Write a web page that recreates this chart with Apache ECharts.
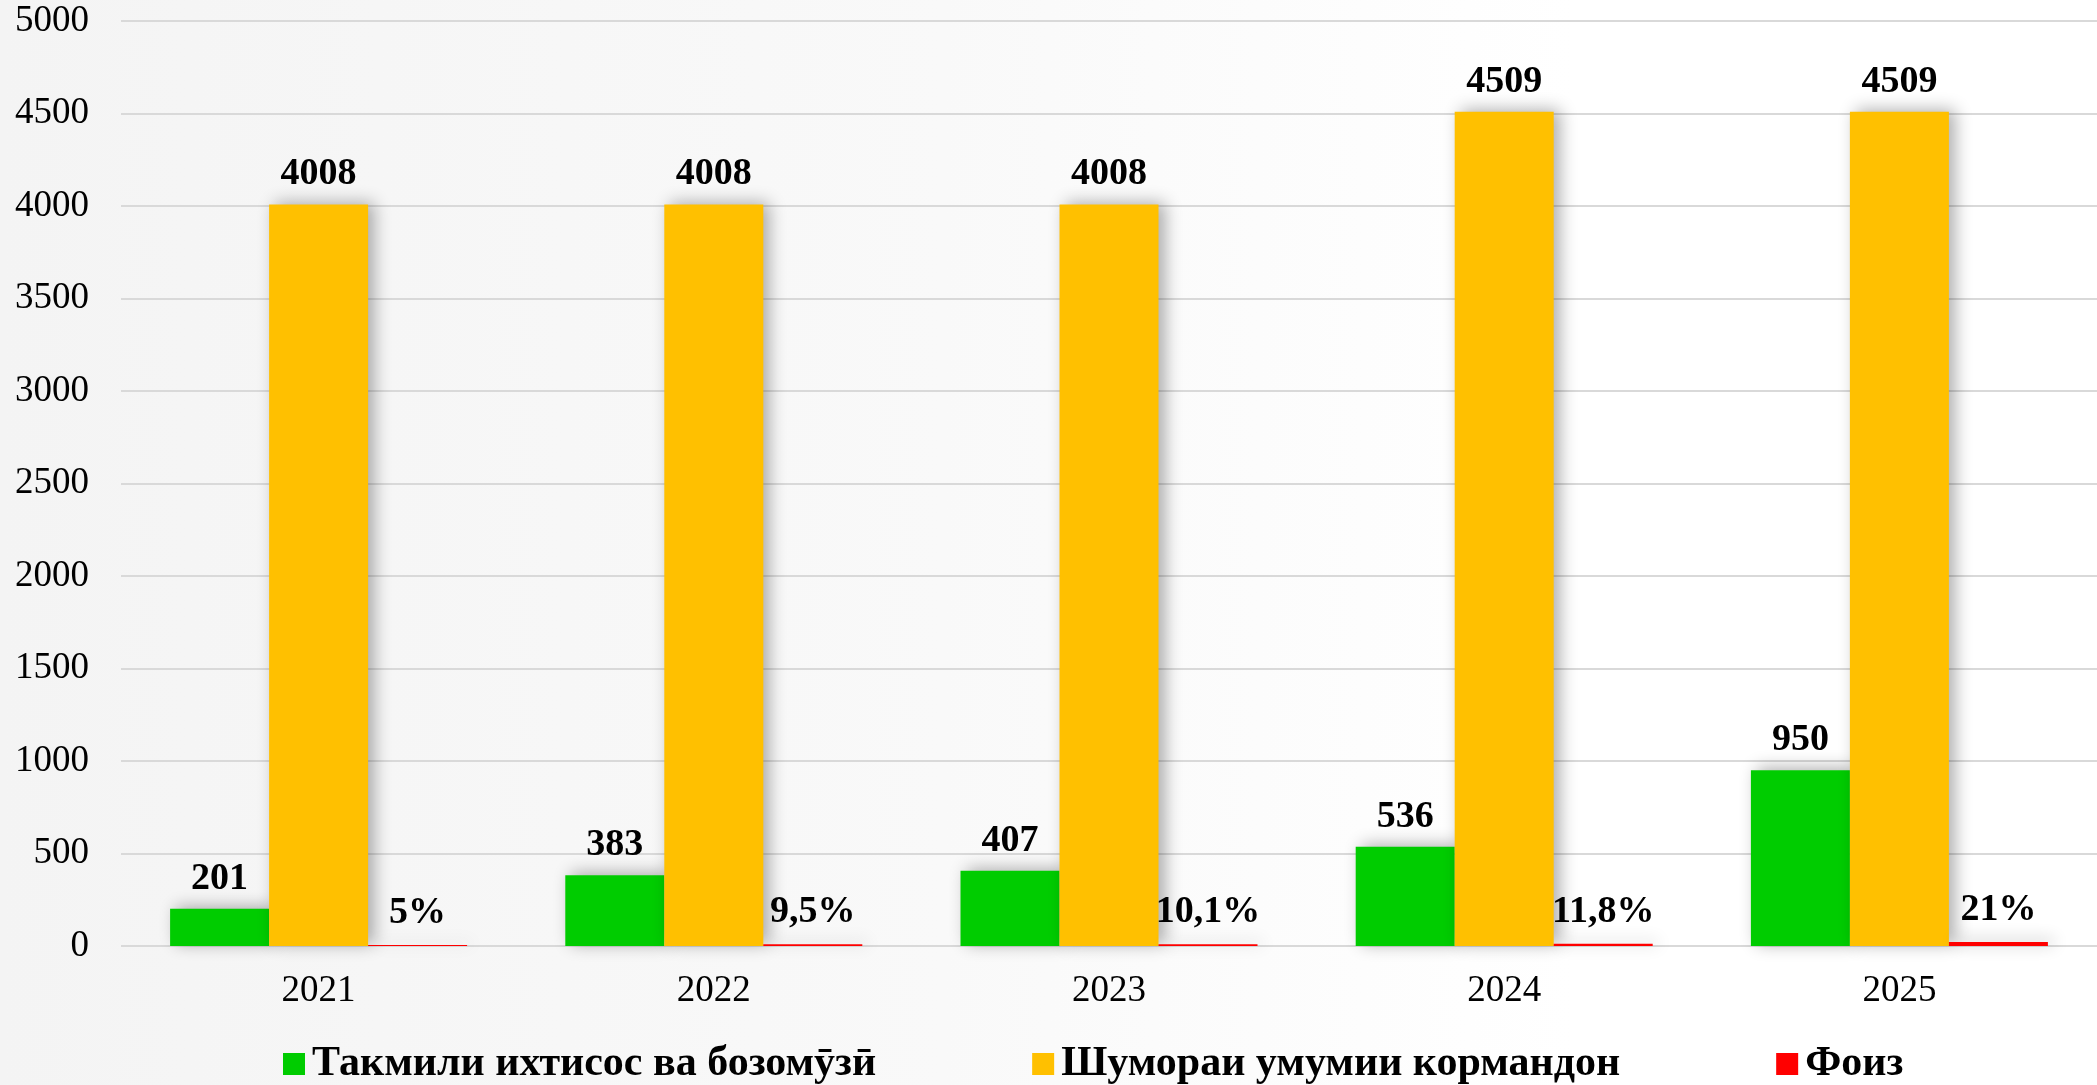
<!DOCTYPE html>
<html>
<head>
<meta charset="utf-8">
<script src="https://cdn.jsdelivr.net/npm/echarts@6/dist/echarts.min.js"></script>
<style>
html,body{margin:0;padding:0;}
#chart{width:2097px;height:1085px;}
</style>
</head>
<body>
<div id="chart"></div>
<script>
const categories = ['2021', '2022', '2023', '2024', '2025'];
const seriesNames = ['Такмили ихтисос ва бозомӯзӣ', 'Шумораи умумии кормандон', 'Фоиз'];
const trainedValues = [201, 383, 407, 536, 950];
const totalValues = [4008, 4008, 4008, 4509, 4509];
const percentValues = [5, 9.5, 10.1, 11.8, 21];
const percentLabels = ['5%', '9,5%', '10,1%', '11,8%', '21%'];
const yTicks = [0, 500, 1000, 1500, 2000, 2500, 3000, 3500, 4000, 4500, 5000];

const FONT = '"Liberation Serif", "DejaVu Serif", serif';
const shadow = {shadowBlur: 16, shadowColor: 'rgba(0,0,0,0.32)', shadowOffsetX: 6, shadowOffsetY: -2};
const labelBase = {show: true, position: 'top', distance: 11, fontFamily: FONT, fontWeight: 'bold', fontSize: 38, color: '#000'};

const chart = echarts.init(document.getElementById('chart'));
chart.setOption({
  backgroundColor: {
    type: 'linear', x: 0, y: 0, x2: 1, y2: 0,
    colorStops: [{offset: 0, color: '#f4f4f4'}, {offset: 0.45, color: '#f9f9f9'}, {offset: 0.75, color: '#ffffff'}, {offset: 1, color: '#ffffff'}]
  },
  animation: false,
  grid: {left: 121, right: 0, top: 21, bottom: 139, containLabel: false},
  legend: {
    left: 278, top: 1038,
    itemWidth: 22, itemHeight: 22, itemGap: 156,
    icon: 'rect',
    textStyle: {fontFamily: FONT, fontWeight: 'bold', fontSize: 42, color: '#000', padding: [0, 0, 0, 2]},
    data: seriesNames
  },
  xAxis: {
    type: 'category', data: categories,
    axisLine: {show: false}, axisTick: {show: false},
    axisLabel: {fontFamily: FONT, fontSize: 37, color: '#000', margin: 27}
  },
  yAxis: {
    type: 'value', min: yTicks[0], max: yTicks[yTicks.length - 1], interval: yTicks[1] - yTicks[0],
    axisLine: {show: false}, axisTick: {show: false},
    axisLabel: {fontFamily: FONT, fontSize: 37, color: '#000', margin: 32, formatter: v => String(v)},
    splitLine: {lineStyle: {color: '#d9d9d9', width: 2}}
  },
  series: [
    {
      name: seriesNames[0], type: 'bar', data: trainedValues,
      barWidth: 99, barGap: '0%',
      itemStyle: Object.assign({color: '#00cc00'}, shadow),
      label: labelBase
    },
    {
      name: seriesNames[1], type: 'bar', data: totalValues,
      barWidth: 99, barGap: '0%',
      itemStyle: Object.assign({color: '#ffc000'}, shadow),
      label: labelBase
    },
    {
      name: seriesNames[2], type: 'bar', data: percentValues,
      barWidth: 99, barGap: '0%',
      itemStyle: Object.assign({color: '#ff0000'}, shadow),
      label: Object.assign({}, labelBase, {formatter: p => percentLabels[p.dataIndex], distance: 13})
    }
  ]
});
</script>
</body>
</html>
